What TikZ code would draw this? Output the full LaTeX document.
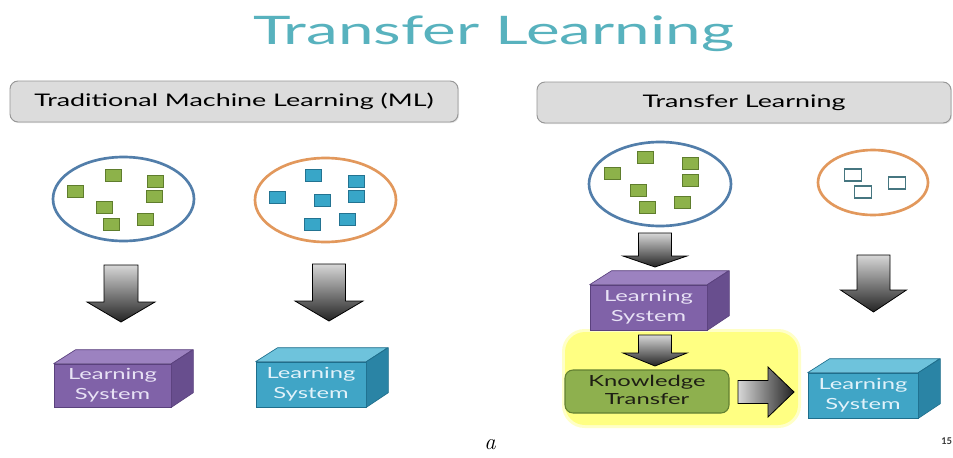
\documentclass[tikz,border=0pt]{standalone}
\usepackage{fontspec}
\setmainfont{Lato}
\newfontfamily\capfont{Latin Modern Roman}
\usepackage{graphicx}
\usetikzlibrary{fit,calc,shapes.geometric,shadows}
\definecolor{titleteal}{RGB}{88,178,190}
\definecolor{boxfill}{RGB}{220,220,220}
\definecolor{boxedge}{RGB}{150,150,150}
\definecolor{circblue}{RGB}{82,126,170}
\definecolor{circorange}{RGB}{226,152,92}
\definecolor{sqgreen}{RGB}{141,178,74}
\definecolor{sqgreenE}{RGB}{95,125,45}
\definecolor{sqblue}{RGB}{56,166,200}
\definecolor{sqblueE}{RGB}{35,115,145}
\definecolor{hollowE}{RGB}{70,118,128}
\definecolor{purF}{RGB}{128,98,168}
\definecolor{purT}{RGB}{156,130,192}
\definecolor{purS}{RGB}{104,78,142}
\definecolor{purE}{RGB}{90,65,125}
\definecolor{purX}{RGB}{232,226,245}
\definecolor{tealF}{RGB}{64,165,198}
\definecolor{tealT}{RGB}{110,195,220}
\definecolor{tealS}{RGB}{42,132,165}
\definecolor{tealE}{RGB}{30,110,140}
\definecolor{tealX}{RGB}{225,242,250}
\definecolor{yel}{RGB}{255,255,130}
\definecolor{ktF}{RGB}{142,176,78}
\definecolor{ktE}{RGB}{98,128,50}
\definecolor{ktX}{RGB}{30,30,20}
\definecolor{arrlight}{RGB}{215,215,215}
\definecolor{arrdark}{RGB}{35,35,35}
\newcommand\wide[1]{\scalebox{1.55}[1]{#1}}
\newcommand\lstext{\wide{\fontsize{11.5}{14.5}\selectfont\begin{tabular}{@{}c@{}}Learning\\System\end{tabular}}}
\tikzset{
  gbox/.style={draw=boxedge, fill=boxfill, rounded corners=6pt, line width=0.7pt, inner sep=0pt,
     drop shadow={opacity=0.2, shadow xshift=0.8pt, shadow yshift=-0.8pt}},
  boxtext/.style={inner sep=0pt, font=\fontsize{13}{15}\selectfont},
  datacirc/.style={ellipse, draw, line width=2pt, inner sep=0pt},
  gsq/.style={draw=sqgreenE, fill=sqgreen, line width=0.7pt, minimum width=12pt, minimum height=9pt, inner sep=0pt},
  bsq/.style={draw=sqblueE, fill=sqblue, line width=0.7pt, minimum width=12pt, minimum height=9pt, inner sep=0pt},
  hsq/.style={draw=hollowE, fill=white, line width=0.9pt, minimum width=12.5pt, minimum height=9pt, inner sep=0pt},
  blockarrow/.style={draw=black, line width=0.6pt, line join=miter},
}
% cube: name, x1, y1, x2, y2, colour prefix
\newcommand\cubebox[6]{%
  \node[fit={(#2,#3) (#4,#5)}, inner sep=0pt, fill=#6F, draw=#6E, line width=0.5pt] (#1) {};
  \filldraw[fill=#6T, draw=#6E, line width=0.5pt, line join=round]
     (#1.north west) -- ++(22,-14) -- ++(#4-#2,0) -- (#1.north east) -- cycle;
  \filldraw[fill=#6S, draw=#6E, line width=0.5pt, line join=round]
     (#1.north east) -- ++(22,-14) -- ++(0,#5-#3) -- (#1.south east) -- cycle;
  \node[inner sep=0pt, text=#6X] (#1-text) at (#1.center) {\lstext};
}
% down arrow: cx, ytop, yhead, ytip, shaft half, head half
\newcommand\downarr[6]{%
  \shade[blockarrow, top color=arrlight, bottom color=arrdark]
    (#1-#5,#2) -- (#1+#5,#2) -- (#1+#5,#3) -- (#1+#6,#3) -- (#1,#4) -- (#1-#6,#3) -- (#1-#5,#3) -- cycle;
}
\begin{document}
\begin{tikzpicture}[x=0.75pt,y=-0.75pt]
\useasboundingbox (0,0) rectangle (953,457);
\fill[white] (0,0) rectangle (953,457);

% title
\node[anchor=base, text=titleteal, font=\fontsize{29.5}{34}\selectfont, inner sep=0pt] (title) at (493.5,44.3) {\scalebox{1.62}[1]{Transfer Learning}};

% header boxes
\node[gbox, fit={(10,81) (458,122)}] (tradbox) {};
\node[boxtext] (tradtext) at (tradbox.center) {\wide{Traditional Machine Learning (ML)}};
\node[gbox, fit={(537,82) (951,123)}] (tlbox) {};
\node[boxtext] (tltext) at (tlbox.center) {\wide{Transfer Learning}};

% yellow highlight
\fill[yel!45, rounded corners=17pt] (562,329) rectangle (801,428);
\node[fill=yel, rounded corners=15pt, inner sep=0pt, fit={(565,332) (798,425)}] (highlight) {};

% data circles
\node[datacirc, draw=circblue, minimum width=105.75pt, minimum height=63pt] (c1) at (123.5,199) {};
\node[datacirc, draw=circorange, minimum width=105.75pt, minimum height=63pt] (c2) at (325.5,200) {};
\node[datacirc, draw=circblue, minimum width=106.5pt, minimum height=63pt] (c3) at (660,184) {};
\node[datacirc, draw=circorange, minimum width=82.5pt, minimum height=48.75pt] (c4) at (873,182.5) {};

% squares
\foreach \px/\py [count=\i] in {113/175,155/181,75/191,154/196,104/207,145/219,111/224}
  \node[gsq] (g1-\i) at (\px,\py) {};
\foreach \px/\py [count=\i] in {313/175,356/181,277/197,322/200,356/196,347/219,312/224}
  \node[bsq] (b2-\i) at (\px,\py) {};
\foreach \px/\py [count=\i] in {645/157,690/163,612/173,690/180,638/190,682/202,647/207}
  \node[gsq] (g3-\i) at (\px,\py) {};
\foreach \px/\py [count=\i] in {853/175,863/192,897/183}
  \node[hsq] (h4-\i) at (\px,\py) {};

% down arrows
\downarr{121}{265}{302}{322}{17}{34}
\downarr{329}{264}{301}{321}{16.5}{34}
\downarr{655}{233}{256}{267}{16.5}{32}
\downarr{655}{335}{353}{366}{16.5}{32}
\downarr{873.5}{255}{290}{312}{16.5}{33}

% right arrow
\shade[blockarrow, left color=arrlight, right color=arrdark]
  (738,380.5) -- (768,380.5) -- (768,367) -- (794,392) -- (768,417) -- (768,403.5) -- (738,403.5) -- cycle;

% cubes
\cubebox{ls1}{54}{364}{171}{407}{pur}
\cubebox{ls2}{256}{362}{366}{407}{teal}
\cubebox{ls3}{590}{285}{707}{330}{pur}
\cubebox{ls4}{808}{373}{918}{418}{teal}

% knowledge transfer
\node[fit={(565,370) (729,413)}, inner sep=0pt, fill=ktF, draw=ktE, line width=0.8pt, rounded corners=6pt] (kt) {};
\node[inner sep=0pt, text=ktX] (kttext) at (kt.center)
  {\wide{\fontsize{11.5}{13.5}\selectfont\begin{tabular}{@{}c@{}}Knowledge\\Transfer\end{tabular}}};

% caption and page number
\node[font=\capfont\itshape\fontsize{17}{20}\selectfont, inner sep=0pt] (cap) at (490,445) {a};
\node[font=\bfseries\fontsize{7}{8}\selectfont, text=black!80, inner sep=0pt, anchor=west] (pg) at (941,441) {15};
\end{tikzpicture}
\end{document}
